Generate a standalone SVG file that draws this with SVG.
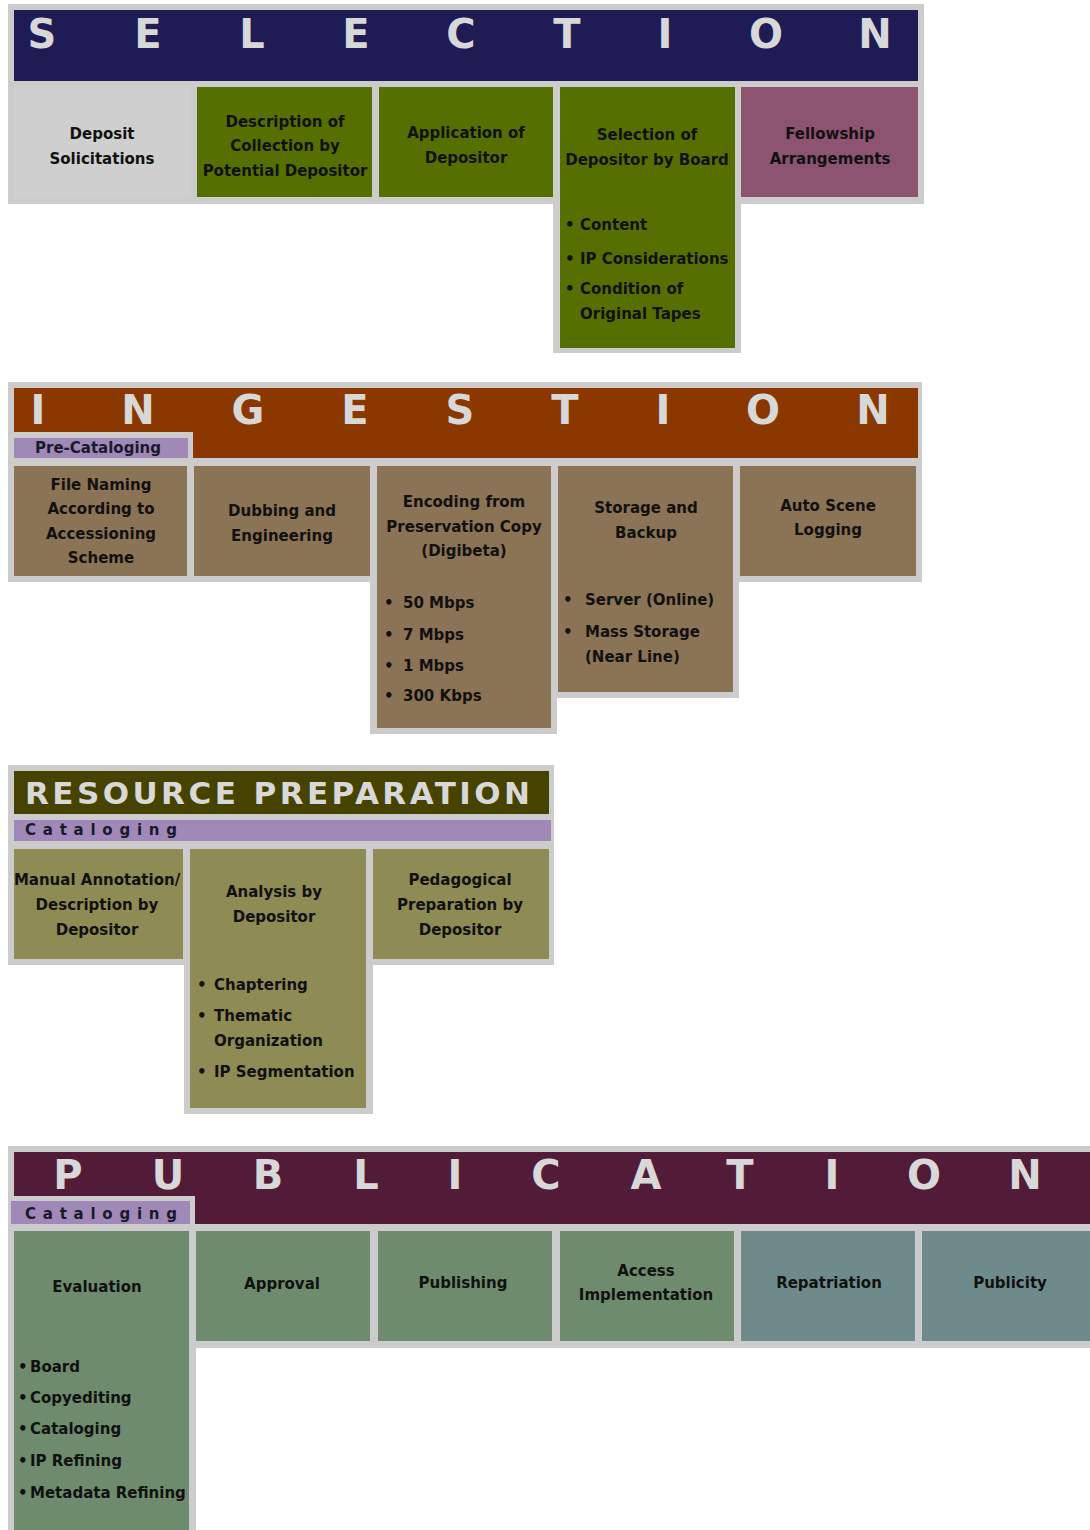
<svg xmlns="http://www.w3.org/2000/svg" width="1090" height="1530" viewBox="0 0 1090 1530">
<style>
.frame{fill:#cccccc}
.hd{font-family:"DejaVu Sans","Liberation Sans",sans-serif;font-weight:bold;font-size:40px;fill:#d8d8d8;text-anchor:middle}
.t{font-family:"DejaVu Sans","Liberation Sans",sans-serif;font-weight:bold;font-size:15px;fill:#111111;text-anchor:middle}
.b{font-family:"DejaVu Sans","Liberation Sans",sans-serif;font-weight:bold;font-size:15px;fill:#111111}
.tab{font-family:"DejaVu Sans","Liberation Sans",sans-serif;font-weight:bold;font-size:15px;fill:#1a1a2a}
.sel{fill:#557000}
.ing{fill:#8b7355}
.res{fill:#8e8b55}
.pub{fill:#6e8b6e}
.pub2{fill:#6e8a8a}
.purp{fill:#a088b8}
</style>
<rect width="1090" height="1530" fill="#ffffff"/>

<!-- SELECTION -->
<g id="selection">
  <rect class="frame" x="8" y="4" width="916" height="200"/>
  <rect class="frame" x="553" y="190" width="188" height="163"/>
  <rect x="14" y="10" width="904" height="71" fill="#1f1b54"/>
  <g class="hd">
    <text x="42" y="48">S</text><text x="148" y="48">E</text><text x="252" y="48">L</text>
    <text x="356" y="48">E</text><text x="461" y="48">C</text><text x="567" y="48">T</text>
    <text x="665" y="48">I</text><text x="766" y="48">O</text><text x="875" y="48">N</text>
  </g>
</g>
<g id="deposit-solicitations">
  <rect x="14" y="87" width="177" height="110" fill="#cfcfcf"/>
  <text class="t" x="102" y="139">Deposit</text>
  <text class="t" x="102" y="164">Solicitations</text>
</g>
<g id="description-of-collection">
  <rect class="sel" x="197" y="87" width="175" height="110"/>
  <text class="t" x="285" y="127">Description of</text>
  <text class="t" x="285" y="151">Collection by</text>
  <text class="t" x="285" y="176">Potential Depositor</text>
</g>
<g id="application-of-depositor">
  <rect class="sel" x="379" y="87" width="174" height="110"/>
  <text class="t" x="466" y="138">Application of</text>
  <text class="t" x="466" y="163">Depositor</text>
</g>
<g id="selection-of-depositor">
  <rect class="sel" x="560" y="87" width="175" height="261"/>
  <text class="t" x="647" y="140">Selection of</text>
  <text class="t" x="647" y="165">Depositor by Board</text>
  <g class="b">
    <text x="565" y="230">•</text><text x="580" y="230">Content</text>
    <text x="565" y="264">•</text><text x="580" y="264">IP Considerations</text>
    <text x="565" y="294">•</text><text x="580" y="294">Condition of</text>
    <text x="580" y="319">Original Tapes</text>
  </g>
</g>
<g id="fellowship-arrangements">
  <rect x="741" y="87" width="177" height="110" fill="#8c5470"/>
  <text class="t" x="830" y="139">Fellowship</text>
  <text class="t" x="830" y="164">Arrangements</text>
</g>

<!-- INGESTION -->
<g id="ingestion">
  <rect class="frame" x="8" y="382" width="914" height="200"/>
  <rect class="frame" x="370" y="570" width="187" height="164"/>
  <rect class="frame" x="551" y="570" width="188" height="128"/>
  <rect x="14" y="388" width="904" height="70" fill="#8b3700"/>
  <rect class="frame" x="8" y="432" width="185" height="26"/>
  <g class="hd">
    <text x="38" y="424">I</text><text x="138" y="424">N</text><text x="248" y="424">G</text>
    <text x="355" y="424">E</text><text x="460" y="424">S</text><text x="565" y="424">T</text>
    <text x="663" y="424">I</text><text x="763" y="424">O</text><text x="873" y="424">N</text>
  </g>
</g>
<g id="pre-cataloging">
  <rect class="purp" x="14" y="438" width="174" height="20"/>
  <text class="tab" x="98" y="453" text-anchor="middle">Pre-Cataloging</text>
</g>
<g id="file-naming">
  <rect class="ing" x="14" y="466" width="173" height="110"/>
  <text class="t" x="101" y="490">File Naming</text>
  <text class="t" x="101" y="514">According to</text>
  <text class="t" x="101" y="539">Accessioning</text>
  <text class="t" x="101" y="563">Scheme</text>
</g>
<g id="dubbing-engineering">
  <rect class="ing" x="194" y="466" width="176" height="110"/>
  <text class="t" x="282" y="516">Dubbing and</text>
  <text class="t" x="282" y="541">Engineering</text>
</g>
<g id="encoding">
  <rect class="ing" x="377" y="466" width="174" height="262"/>
  <text class="t" x="464" y="507">Encoding from</text>
  <text class="t" x="464" y="532">Preservation Copy</text>
  <text class="t" x="464" y="556">(Digibeta)</text>
  <g class="b">
    <text x="384" y="608">•</text><text x="403" y="608">50 Mbps</text>
    <text x="384" y="640">•</text><text x="403" y="640">7 Mbps</text>
    <text x="384" y="671">•</text><text x="403" y="671">1 Mbps</text>
    <text x="384" y="701">•</text><text x="403" y="701">300 Kbps</text>
  </g>
</g>
<g id="storage-backup">
  <rect class="ing" x="558" y="466" width="175" height="226"/>
  <text class="t" x="646" y="513">Storage and</text>
  <text class="t" x="646" y="538">Backup</text>
  <g class="b">
    <text x="563" y="605">•</text><text x="585" y="605">Server (Online)</text>
    <text x="563" y="637">•</text><text x="585" y="637">Mass Storage</text>
    <text x="585" y="662">(Near Line)</text>
  </g>
</g>
<g id="auto-scene-logging">
  <rect class="ing" x="740" y="466" width="176" height="110"/>
  <text class="t" x="828" y="511">Auto Scene</text>
  <text class="t" x="828" y="535">Logging</text>
</g>

<!-- RESOURCE PREPARATION -->
<g id="resource-preparation">
  <rect class="frame" x="8" y="765" width="546" height="200"/>
  <rect class="frame" x="184" y="950" width="189" height="164"/>
  <rect x="14" y="771" width="535" height="43" fill="#464200"/>
  <text x="25" y="804" textLength="505" lengthAdjust="spacing" style="font-family:'DejaVu Sans','Liberation Sans',sans-serif;font-weight:bold;font-size:31px;fill:#d8d8d8">RESOURCE PREPARATION</text>
</g>
<g id="cataloging-res">
  <rect class="purp" x="14" y="820" width="537" height="21"/>
  <text class="tab" x="25" y="835" textLength="152" lengthAdjust="spacing">Cataloging</text>
</g>
<g id="manual-annotation">
  <rect class="res" x="14" y="849" width="169" height="110"/>
  <text class="t" x="97" y="885">Manual Annotation/</text>
  <text class="t" x="97" y="910">Description by</text>
  <text class="t" x="97" y="935">Depositor</text>
</g>
<g id="analysis-by-depositor">
  <rect class="res" x="190" y="849" width="176" height="259"/>
  <text class="t" x="274" y="897">Analysis by</text>
  <text class="t" x="274" y="922">Depositor</text>
  <g class="b">
    <text x="197" y="990">•</text><text x="214" y="990">Chaptering</text>
    <text x="197" y="1021">•</text><text x="214" y="1021">Thematic</text>
    <text x="214" y="1046">Organization</text>
    <text x="197" y="1077">•</text><text x="214" y="1077">IP Segmentation</text>
  </g>
</g>
<g id="pedagogical-preparation">
  <rect class="res" x="373" y="849" width="176" height="110"/>
  <text class="t" x="460" y="885">Pedagogical</text>
  <text class="t" x="460" y="910">Preparation by</text>
  <text class="t" x="460" y="935">Depositor</text>
</g>

<!-- PUBLICATION -->
<g id="publication">
  <rect class="frame" x="8" y="1146" width="1082" height="202"/>
  <rect class="frame" x="8" y="1340" width="188" height="190"/>
  <rect x="14" y="1152" width="1076" height="72" fill="#521c38"/>
  <rect class="frame" x="8" y="1196" width="187" height="28"/>
  <g class="hd">
    <text x="68" y="1189">P</text><text x="168" y="1189">U</text><text x="268" y="1189">B</text>
    <text x="366" y="1189">L</text><text x="455" y="1189">I</text><text x="546" y="1189">C</text>
    <text x="646" y="1189">A</text><text x="740" y="1189">T</text><text x="832" y="1189">I</text>
    <text x="924" y="1189">O</text><text x="1025" y="1189">N</text>
  </g>
</g>
<g id="cataloging-pub">
  <rect class="purp" x="11" y="1201" width="179" height="23"/>
  <text class="tab" x="25" y="1219" textLength="152" lengthAdjust="spacing">Cataloging</text>
</g>
<g id="evaluation">
  <rect class="pub" x="14" y="1231" width="175" height="299"/>
  <text class="t" x="97" y="1292">Evaluation</text>
  <g class="b">
    <text x="18" y="1372">•</text><text x="30" y="1372">Board</text>
    <text x="18" y="1403">•</text><text x="30" y="1403">Copyediting</text>
    <text x="18" y="1434">•</text><text x="30" y="1434">Cataloging</text>
    <text x="18" y="1466">•</text><text x="30" y="1466">IP Refining</text>
    <text x="18" y="1498">•</text><text x="30" y="1498">Metadata Refining</text>
  </g>
</g>
<g id="approval">
  <rect class="pub" x="196" y="1231" width="174" height="110"/>
  <text class="t" x="282" y="1289">Approval</text>
</g>
<g id="publishing">
  <rect class="pub" x="378" y="1231" width="174" height="110"/>
  <text class="t" x="463" y="1288">Publishing</text>
</g>
<g id="access-implementation">
  <rect class="pub" x="560" y="1231" width="174" height="110"/>
  <text class="t" x="646" y="1276">Access</text>
  <text class="t" x="646" y="1300">Implementation</text>
</g>
<g id="repatriation">
  <rect class="pub2" x="741" y="1231" width="174" height="110"/>
  <text class="t" x="829" y="1288">Repatriation</text>
</g>
<g id="publicity">
  <rect class="pub2" x="922" y="1231" width="168" height="110"/>
  <text class="t" x="1010" y="1288">Publicity</text>
</g>
</svg>
